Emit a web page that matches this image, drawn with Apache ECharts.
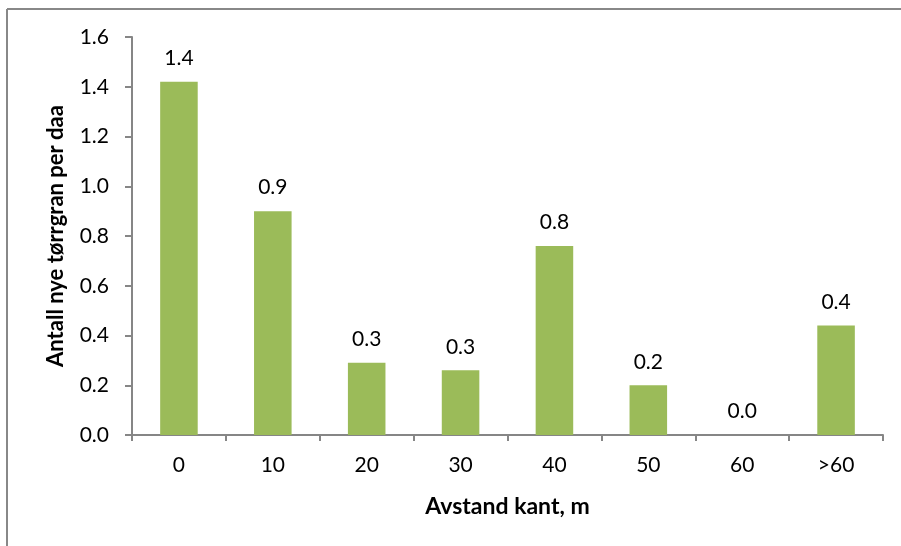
<!DOCTYPE html>
<html>
<head>
<meta charset="utf-8">
<script src="https://cdn.jsdelivr.net/npm/echarts@6/dist/echarts.min.js"></script>
<style>
  html, body { margin: 0; padding: 0; background: #fff; }
  #chart { width: 901px; height: 546px; }
</style>
</head>
<body>
<div id="chart"></div>
<script>
// Distance from stand edge (m) and new dead spruce per decare
const categories = ['0', '10', '20', '30', '40', '50', '60', '>60'];
const values = [1.42, 0.90, 0.29, 0.26, 0.76, 0.20, 0.0, 0.44];
const yTicks = { min: 0, max: 1.6, interval: 0.2 };

const FONT = 'Lato, "Open Sans", sans-serif';
const AXIS_COLOR = '#868686';

const chart = echarts.init(document.getElementById('chart'), null, { renderer: 'canvas' });
chart.setOption({
  animation: false,
  backgroundColor: '#ffffff',
  graphic: [
    // frame: top and left edges of the chart area
    { type: 'line', shape: { x1: 7, y1: 9, x2: 905, y2: 9 }, style: { stroke: '#888888', lineWidth: 2 } },
    { type: 'line', shape: { x1: 7, y1: 9, x2: 7, y2: 550 }, style: { stroke: '#888888', lineWidth: 2 } }
  ],
  grid: { left: 132, right: 18, top: 37, bottom: 111, containLabel: false },
  xAxis: {
    type: 'category',
    data: categories,
    name: 'Avstand kant, m',
    nameLocation: 'middle',
    nameGap: 60,
    nameTextStyle: { fontFamily: FONT, fontSize: 23, fontWeight: 'bold', color: '#000' },
    axisLine: { lineStyle: { color: AXIS_COLOR, width: 2 } },
    axisTick: { show: true, length: 6, alignWithLabel: false, lineStyle: { color: AXIS_COLOR, width: 2 } },
    axisLabel: { fontFamily: FONT, fontSize: 21, color: '#000', margin: 20 }
  },
  yAxis: {
    type: 'value',
    min: yTicks.min,
    max: yTicks.max,
    interval: yTicks.interval,
    name: 'Antall nye tørrgran per daa',
    nameLocation: 'middle',
    nameGap: 65,
    nameTextStyle: { fontFamily: FONT, fontSize: 22, fontWeight: 'bold', color: '#000' },
    splitLine: { show: false },
    axisLine: { show: true, lineStyle: { color: AXIS_COLOR, width: 2 } },
    axisTick: { show: true, length: 7, lineStyle: { color: AXIS_COLOR, width: 2 } },
    axisLabel: { fontFamily: FONT, fontSize: 21, color: '#000', margin: 23,
                 formatter: v => v.toFixed(1) }
  },
  series: [{
    type: 'bar',
    data: values,
    barWidth: '40%',
    itemStyle: { color: '#9BBB59' },
    label: {
      show: true,
      position: 'top',
      distance: 13,
      fontFamily: FONT,
      fontSize: 21,
      color: '#000',
      formatter: p => p.value.toFixed(1)
    }
  }]
});
</script>
</body>
</html>
